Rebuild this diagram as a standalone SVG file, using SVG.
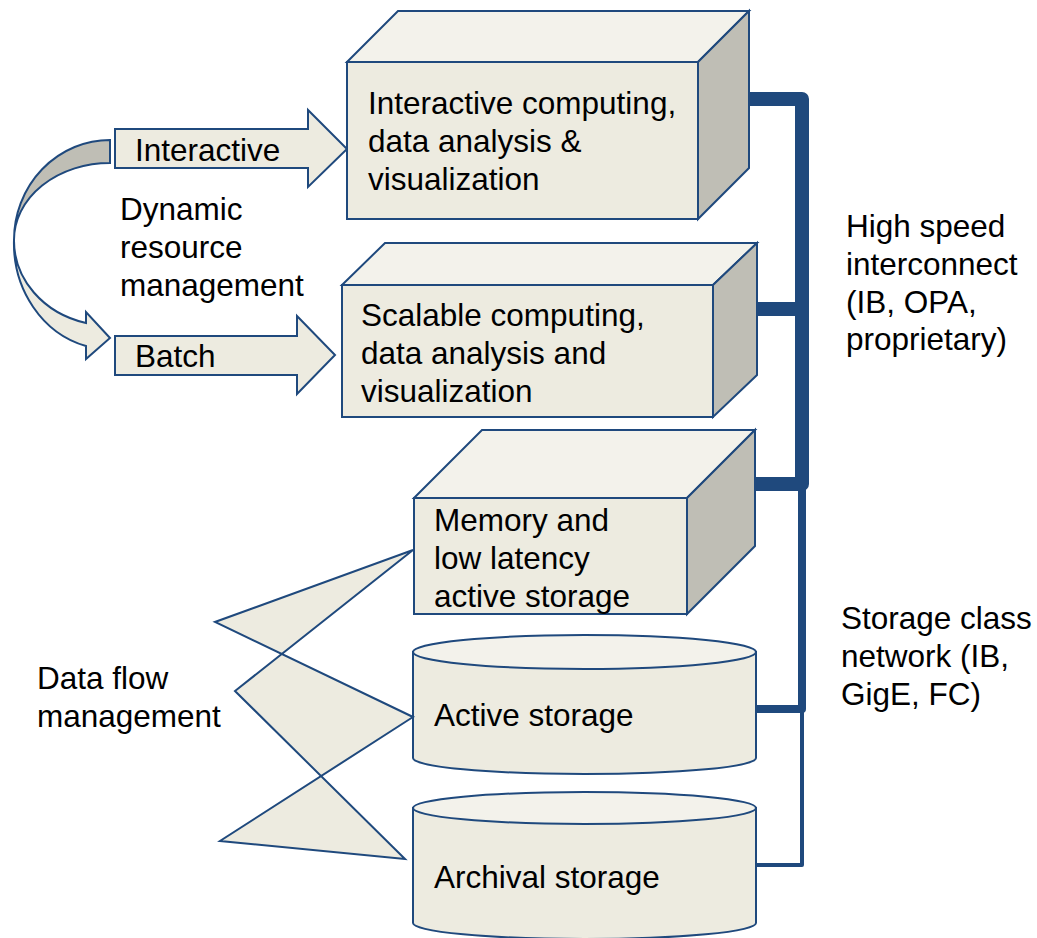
<svg xmlns="http://www.w3.org/2000/svg" width="1037" height="938" viewBox="0 0 1037 938">
<style>
.s{stroke:#1F497D;stroke-width:2;stroke-linejoin:miter}
.front{fill:#EDEBE0}
.top{fill:#F3F2EB}
.side{fill:#BFBEB5}
text{font-family:"Liberation Sans",Arial,sans-serif;font-size:31.5px;fill:#000}
.c{fill:none;stroke:#1F497D;stroke-linejoin:round}
</style>
<rect width="1037" height="938" fill="#FFFFFF"/>

<g id="dynamic-arrow">
<path class="s side" d="M110,140 L110,163 A96 77 0 0 0 14,240 A96 100 0 0 1 110,140 Z"/>
<path class="s front" d="M14,240 A96 106 0 0 0 86,346 L86,359 L110,338 L86,312 L86,323 A96 85 0 0 1 14,240 Z"/>
</g>

<g id="arrow-interactive">
<polygon class="s front" points="115,129 308,129 308,110 347,149 308,187 308,168 115,168"/>
<text x="135" y="161">Interactive</text>
</g>

<g id="arrow-batch">
<polygon class="s front" points="115,336 297,336 297,316 335,355 297,394 297,375 115,375"/>
<text x="135" y="367">Batch</text>
</g>

<g id="label-dynamic">
<text x="120" y="220">Dynamic</text>
<text x="120" y="258">resource</text>
<text x="120" y="296">management</text>
</g>

<g id="node-interactive">
<polygon class="s top" points="347,62 398,11 749,11 698,62"/>
<polygon class="s side" points="698,62 749,11 749,168 698,219"/>
<rect class="s front" x="347" y="62" width="351" height="157"/>
<text x="368" y="114">Interactive computing,</text>
<text x="368" y="152">data analysis &amp;</text>
<text x="368" y="190">visualization</text>
</g>

<g id="node-scalable">
<polygon class="s top" points="342,285 385,243 757,243 713,285"/>
<polygon class="s side" points="713,285 757,243 757,375 713,417"/>
<rect class="s front" x="342" y="285" width="371" height="132"/>
<text x="361" y="326">Scalable computing,</text>
<text x="361" y="364">data analysis and</text>
<text x="361" y="402">visualization</text>
</g>

<g id="node-memory">
<polygon class="s top" points="414,498 482,430 755,430 687,498"/>
<polygon class="s side" points="687,498 755,430 755,546 687,614"/>
<rect class="s front" x="414" y="498" width="273" height="116"/>
<text x="434" y="531">Memory and</text>
<text x="434" y="569">low latency</text>
<text x="434" y="607">active storage</text>
</g>

<g id="node-active">
<path class="s front" d="M413,652 V758 A171.5 16 0 0 0 756,758 V652 Z"/>
<ellipse class="s top" cx="584.5" cy="652" rx="171.5" ry="17"/>
<text x="434" y="726">Active storage</text>
</g>

<g id="node-archival">
<path class="s front" d="M413,808 V923 A171.5 16 0 0 0 756,923 V808 Z"/>
<ellipse class="s top" cx="584.5" cy="808" rx="171.5" ry="16"/>
<text x="434" y="888">Archival storage</text>
</g>

<g id="data-flow">
<polygon class="s front" points="413,550 215,622 413,717 220,841 405,859 235,691"/>
<text x="37" y="689">Data flow</text>
<text x="37" y="727">management</text>
</g>

<g id="connectors">
<path class="c" stroke-width="14" d="M749,99 H802 V484 H755"/>
<path class="c" stroke-width="14" d="M757,309 H802"/>
<path class="c" stroke-width="8" stroke-linejoin="miter" d="M802,484 V709 H757"/>
<path class="c" stroke-width="4" stroke-linejoin="miter" d="M802,709 V865 H757"/>
</g>

<g id="label-interconnect">
<text x="846" y="237">High speed</text>
<text x="846" y="275">interconnect</text>
<text x="846" y="313">(IB, OPA,</text>
<text x="846" y="350">proprietary)</text>
</g>

<g id="label-storage-network">
<text x="841" y="629">Storage class</text>
<text x="841" y="667">network (IB,</text>
<text x="841" y="705">GigE, FC)</text>
</g>
</svg>
